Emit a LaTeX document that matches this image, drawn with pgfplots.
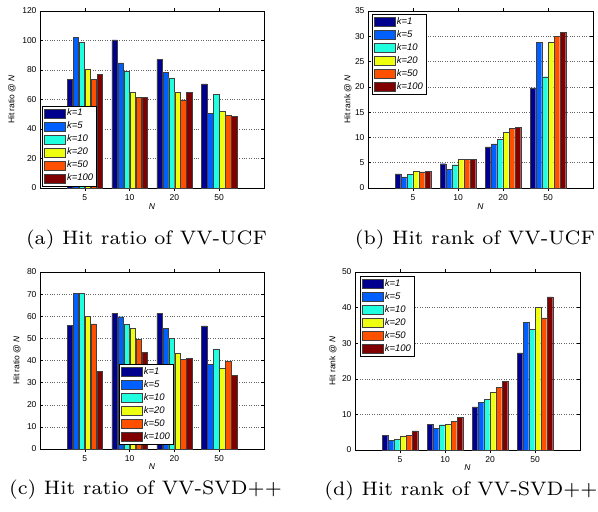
\documentclass[border=0pt]{standalone}
\usepackage{fontspec}
\setsansfont{Liberation Sans}
\newfontfamily\capfont{lmroman7-regular.otf}
\usepackage{pgfplots}
\usepackage{pgfplotstable}
\pgfplotsset{compat=1.18}
\definecolor{c1}{rgb}{0,0,0.5625}
\definecolor{c2}{rgb}{0,0.375,1}
\definecolor{c3}{rgb}{0.125,1,0.875}
\definecolor{c4}{rgb}{0.9375,1,0.0625}
\definecolor{c5}{rgb}{1,0.3125,0}
\definecolor{c6}{rgb}{0.5,0,0}

\pgfplotstableread{
x k1 k5 k10 k20 k50 k100
1 73.8 102.2 98.6 80.8 73.8 76.9
2 100.4 84.8 79.2 64.7 61.6 61.6
3 87.1 78.5 74.7 65.0 59.8 65.0
4 70.6 50.8 63.6 52.1 49.2 48.5
}\tabA
\pgfplotstableread{
x k1 k5 k10 k20 k50 k100
1 2.8 2.2 2.7 3.3 3.2 3.25
2 4.8 3.75 4.6 5.6 5.65 5.65
3 8.15 8.75 9.6 11.05 11.85 12.05
4 19.8 28.8 22.0 28.8 30.0 30.8
}\tabB
\pgfplotstableread{
x k1 k5 k10 k20 k50 k100
1 56.0 70.4 70.3 59.9 56.6 35.0
2 61.3 59.8 56.3 54.5 49.5 43.8
3 61.3 54.5 50.0 43.1 40.4 41.1
4 55.6 38.4 45.3 36.5 39.6 33.3
}\tabC
\pgfplotstableread{
x k1 k5 k10 k20 k50 k100
1 4.2 2.7 3.0 4.0 4.2 5.4
2 7.2 6.0 7.1 7.3 8.0 9.2
3 12.1 13.4 14.2 16.1 17.6 19.3
4 27.3 35.9 33.9 40.1 37.1 43.0
}\tabD

\newcommand{\lblfont}{\sffamily\fontsize{8.5}{9}\selectfont}
\pgfplotsset{
  mybar/.style={draw=black!75, line width=0.4pt, fill=#1,
    legend image code/.code={\draw[fill=#1, draw=black!75, line width=0.5pt] (1pt,-4.5pt) rectangle (22pt,4.5pt);}},
  panel/.style={scale only axis, width=224pt, height=177pt,
    xmin=0, xmax=5, ymin=0, xtick={1,2,3,4}, xticklabels={5,10,20,50},
    ybar, bar width=0.12,
    ymajorgrids, grid style={dotted, black!60, line width=0.5pt},
    axis line style={line width=0.6pt}, tick style={line width=0.5pt, black},
    major tick length=3pt,
    ticklabel style={font=\lblfont},
    /pgf/number format/assume math mode=true,
    xlabel={\textit{N}},
    legend cell align=left,
    legend style={draw=black, line width=0.6pt, fill=white,
      font=\sffamily\itshape\fontsize{9.5}{10}\selectfont,
      inner sep=1.5pt, row sep=1pt,
      nodes={inner sep=1.5pt, text height=7pt, text depth=2pt}},
  },
}
\newcommand{\sixplots}[1]{%
  \addplot[mybar=c1, bar shift=-0.3333] table[x=x,y=k1] {#1};
  \addplot[mybar=c2, bar shift=-0.2] table[x=x,y=k5] {#1};
  \addplot[mybar=c3, bar shift=-0.0667] table[x=x,y=k10] {#1};
  \addplot[mybar=c4, bar shift=0.0667] table[x=x,y=k20] {#1};
  \addplot[mybar=c5, bar shift=0.2] table[x=x,y=k50] {#1};
  \addplot[mybar=c6, bar shift=0.3333] table[x=x,y=k100] {#1};
  \legend{k=1,k=5,k=10,k=20,k=50,k=100}
}

\begin{document}
\begin{tikzpicture}
\path[use as bounding box] (0,0) rectangle (598pt,-512pt);
% (a)
\begin{axis}[panel, at={(40pt,-188pt)}, anchor=south west,
  ymax=120, ytick distance=20,
  ylabel={Hit ratio @ \textit{N}},
  every axis y label/.style={at={(axis description cs:-0.125,0.5)}, rotate=90, anchor=center, font=\lblfont},
  every axis x label/.style={at={(axis description cs:0.5,-0.107)}, anchor=center, font=\lblfont},
  legend style={at={(0.01,0.01)}, anchor=south west}]
\sixplots{\tabA}
\end{axis}
% (b)
\begin{axis}[panel, at={(368pt,-188pt)}, anchor=south west, width=225pt,
  ymax=35, ytick distance=5,
  ylabel={Hit rank @ \textit{N}},
  every axis y label/.style={at={(axis description cs:-0.089,0.5)}, rotate=90, anchor=center, font=\lblfont},
  every axis x label/.style={at={(axis description cs:0.5,-0.107)}, anchor=center, font=\lblfont},
  legend style={at={(0.018,0.983)}, anchor=north west}]
\sixplots{\tabB}
\end{axis}
% (c)
\begin{axis}[panel, at={(40pt,-449pt)}, anchor=south west,
  ymax=80, ytick distance=10,
  ylabel={Hit ratio @ \textit{N}},
  every axis y label/.style={at={(axis description cs:-0.103,0.5)}, rotate=90, anchor=center, font=\lblfont},
  every axis x label/.style={at={(axis description cs:0.5,-0.10)}, anchor=center, font=\lblfont},
  legend style={at={(0.353,0.023)}, anchor=south west}]
\sixplots{\tabC}
\end{axis}
% (d)
\begin{axis}[panel, at={(355pt,-450pt)}, anchor=south west, width=225pt, height=178pt,
  ymax=50, ytick distance=10,
  ylabel={Hit rank @ \textit{N}},
  every axis y label/.style={at={(axis description cs:-0.098,0.5)}, rotate=90, anchor=center, font=\lblfont},
  every axis x label/.style={at={(axis description cs:0.5,-0.096)}, anchor=center, font=\lblfont},
  legend style={at={(0.022,0.978)}, anchor=north west}]
\sixplots{\tabD}
\end{axis}
\node[font=\capfont\fontsize{19.5}{22}\selectfont, anchor=base, inner sep=0pt] at (146.5pt,-244pt) {(a) Hit ratio of VV-UCF};
\node[font=\capfont\fontsize{19.5}{22}\selectfont, anchor=base, inner sep=0pt] at (475pt,-244pt) {(b) Hit rank of VV-UCF};
\node[font=\capfont\fontsize{19.5}{22}\selectfont, anchor=base, inner sep=0pt] at (145.5pt,-494pt) {(c) Hit ratio of VV-SVD++};
\node[font=\capfont\fontsize{19.5}{22}\selectfont, anchor=base, inner sep=0pt] at (461pt,-495pt) {(d) Hit rank of VV-SVD++};
\end{tikzpicture}
\end{document}
